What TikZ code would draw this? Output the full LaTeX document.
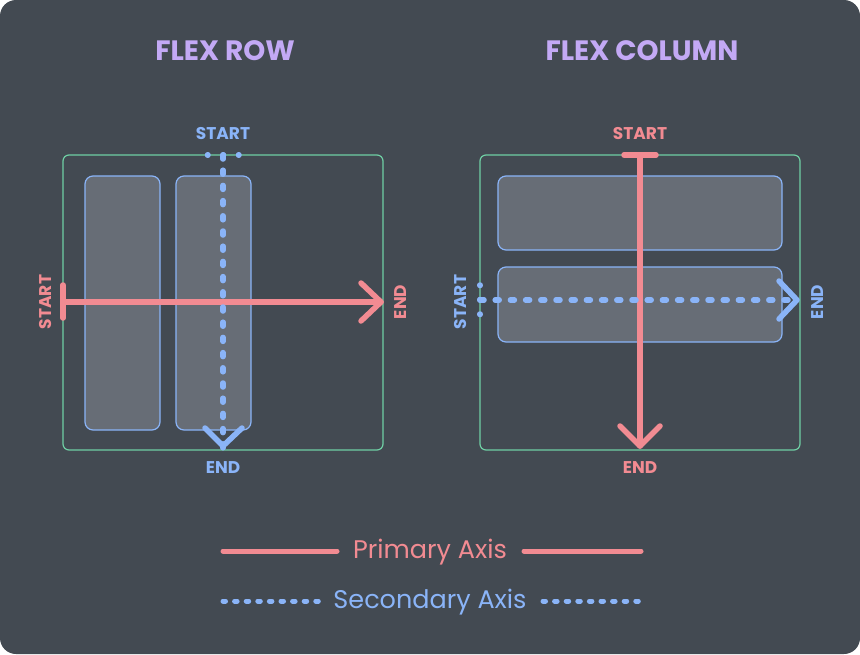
\documentclass[tikz,border=0pt]{standalone}
\usepackage{fontspec}
\setmainfont{Poppins}
\begin{document}
\definecolor{panelbg}{HTML}{434A52}
\definecolor{framegreen}{HTML}{6FCFA4}
\definecolor{itemfill}{HTML}{676D76}
\definecolor{axisblue}{HTML}{8AB4F8}
\definecolor{axisred}{HTML}{F28B92}
\definecolor{titlepurple}{HTML}{C3A9F5}
\begin{tikzpicture}[x=1pt,y=-1pt,
  container/.style={draw=framegreen,line width=1.2pt,rounded corners=6pt},
  item/.style={draw=axisblue,fill=itemfill,line width=1.2pt,rounded corners=8pt},
  primary/.style={draw=axisred,line width=5.5pt,line cap=round,line join=round},
  secondary/.style={draw=axisblue,line width=5.5pt,line cap=round,dash pattern=on 4pt off 11.2pt},
  barbs/.style={draw=axisblue,line width=5.5pt,line cap=round,line join=round},
  title/.style={text=titlepurple,font=\fontsize{28}{28}\selectfont\bfseries},
  redlabel/.style={text=axisred,font=\fontsize{17}{17}\selectfont\bfseries},
  bluelabel/.style={text=axisblue,font=\fontsize{17}{17}\selectfont\bfseries},
  legend/.style={font=\fontsize{25.5}{25.5}\selectfont}]
\useasboundingbox (0,0) rectangle (860,654);
\fill[white] (0,0) rectangle (860,654);
\fill[panelbg,rounded corners=16pt] (0,0) rectangle (860,654);

% titles
\node[title] (rowtitle) at (225,51) {FLEX ROW};
\node[title] (coltitle) at (642,51) {FLEX COLUMN};

% ---- flex row ----
\draw[container] (63,155) rectangle (383,450);
\draw[item] (85,176) rectangle (160,430);
\draw[item] (176,176) rectangle (251,430);
% primary axis (horizontal)
\coordinate (rps) at (63,302);
\coordinate (rpe) at (381,302);
\draw[primary] (rps) -- (rpe);
\draw[primary] ([yshift=-16pt]rps) -- ([yshift=17pt]rps);
\draw[primary] ([shift={(-20,-19)}]rpe) -- (rpe) -- ([shift={(-20,19)}]rpe);
% secondary axis (vertical, dotted)
\coordinate (rss) at (223,155);
\coordinate (rse) at (223,446);
\draw[secondary] (rss) -- ([yshift=-3pt]rse);
\draw[secondary,dash pattern=on 0.5pt off 15pt] ([xshift=-15.5pt]rss) -- ([xshift=16pt]rss);
\draw[barbs] ([shift={(-18,-18)}]rse) -- (rse) -- ([shift={(19,-18)}]rse);
% axis labels
\node[bluelabel] (rowsstart) at (223,134) {START};
\node[bluelabel] (rowsend) at (223,468) {END};
\node[redlabel,rotate=90] (rowpstart) at (46,302) {START};
\node[redlabel,rotate=90] (rowpend) at (401,302) {END};

% ---- flex column ----
\draw[container] (480,155) rectangle (800,450);
\draw[item] (498,176) rectangle (782,250);
\draw[item] (498,267) rectangle (782,342);
% primary axis (vertical)
\coordinate (cps) at (640,155);
\coordinate (cpe) at (640,446);
\draw[primary] (cps) -- (cpe);
\draw[primary] ([xshift=-16pt]cps) -- ([xshift=16pt]cps);
\draw[primary] ([shift={(-20,-20)}]cpe) -- (cpe) -- ([shift={(20,-20)}]cpe);
% secondary axis (horizontal, dotted)
\coordinate (css) at (480,300);
\coordinate (cse) at (797,300);
\draw[secondary] (css) -- ([xshift=-3pt]cse);
\draw[secondary,dash pattern=on 0.5pt off 14pt] ([yshift=-14.5pt]css) -- ([yshift=15pt]css);
\draw[barbs] ([shift={(-18,-19)}]cse) -- (cse) -- ([shift={(-18,19)}]cse);
% axis labels
\node[redlabel] (colpstart) at (640,134) {START};
\node[redlabel] (colpend) at (640,468) {END};
\node[bluelabel,rotate=90] (colsstart) at (461,302) {START};
\node[bluelabel,rotate=90] (colsend) at (818,302) {END};

% ---- legend ----
\node[legend,text=axisred] (primlabel) at (430,552) {Primary Axis};
\coordinate (pl1) at (223,551);
\coordinate (pl2) at (337,551);
\coordinate (pr1) at (524,551);
\coordinate (pr2) at (641,551);
\draw[primary,line width=5pt] (pl1) -- (pl2);
\draw[primary,line width=5pt] (pr1) -- (pr2);
\node[legend,text=axisblue] (seclabel) at (430,602) {Secondary Axis};
\coordinate (sl1) at (223,601);
\coordinate (sl2) at (322,601);
\coordinate (sr1) at (543,601);
\coordinate (sr2) at (642,601);
\draw[secondary,line width=5pt,dash pattern=on 2.5pt off 9.1pt] (sl1) -- (sl2);
\draw[secondary,line width=5pt,dash pattern=on 2.5pt off 9.1pt] (sr1) -- (sr2);
\end{tikzpicture}
\end{document}
